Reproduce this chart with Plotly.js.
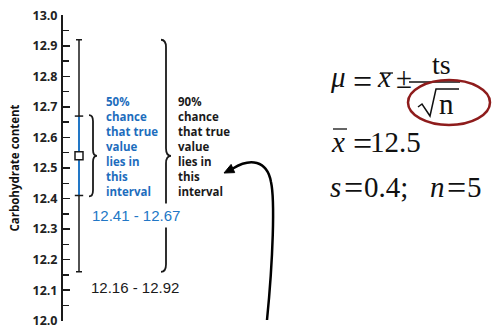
<!DOCTYPE html>
<html><head><meta charset="utf-8">
<script src="https://cdn.plot.ly/plotly-3.0.1.min.js"></script>
<style>html,body{margin:0;padding:0;background:#fff;}</style>
</head><body><div id="chart" style="width:494px;height:328px;"></div>
<script>
// ---- data ----
const meanValue = [12.54];
const ci50 = [12.41, 12.67];
const ci90 = [12.16, 12.92];
const yTickValues = [12.0, 12.1, 12.2, 12.3, 12.4, 12.5, 12.6, 12.7, 12.8, 12.9, 13.0];
const yTickLabels = ["12.0", "12.1", "12.2", "12.3", "12.4", "12.5", "12.6", "12.7", "12.8", "12.9", "13.0"];
const label50 = ["50%", "chance", "that true", "value", "lies in", "this", "interval"];
const label90 = ["90%", "chance", "that true", "value", "lies in", "this", "interval"];
const sampleMean = [12.5];
const sampleSD = [0.4];
const sampleN = [5];
const yAxisTitle = "Carbohydrate content";

// ---- layout helpers ----
const W = 494, H = 328, ML = 63, MT = 15, MB = 7;
const plotH = H - MT - MB;
const yMin = 11.999, yMax = 13.001;
const Y = py => yMax - (py - MT) / plotH * (yMax - yMin);   // page pixel -> y value
const BLUE = '#2277c6';
const BLUE_TXT = '#1d6dbd';
const INK = '#1a1a1a';
const barX = 79;

function brace(xv, yTop, yBot, w, c) {
  const ym = (yTop + yBot) / 2;
  return `M ${xv - w},${yTop} Q ${xv},${yTop} ${xv},${yTop - c} L ${xv},${ym + c} ` +
         `Q ${xv},${ym} ${xv + w},${ym} Q ${xv},${ym} ${xv},${ym - c} ` +
         `L ${xv},${yBot + c} Q ${xv},${yBot} ${xv - w},${yBot}`;
}

const traces = [
  { x: [barX], y: meanValue, type: 'scatter', mode: 'markers', hoverinfo: 'skip', showlegend: false,
    marker: { size: 1, color: 'rgba(0,0,0,0)' },
    error_y: { type: 'data', symmetric: false, array: [ci90[1] - meanValue[0]], arrayminus: [meanValue[0] - ci90[0]],
               color: INK, thickness: 1.5, width: 3 } },
  { x: [barX], y: meanValue, type: 'scatter', mode: 'markers', hoverinfo: 'skip', showlegend: false,
    marker: { size: 1, color: 'rgba(0,0,0,0)' },
    error_y: { type: 'data', symmetric: false, array: [ci50[1] - meanValue[0]], arrayminus: [meanValue[0] - ci50[0]],
               color: BLUE, thickness: 2, width: 0 } },
  { x: [barX, barX], y: ci50, type: 'scatter', mode: 'markers', hoverinfo: 'skip', showlegend: false,
    marker: { symbol: 'line-ew', size: 6, line: { color: INK, width: 1.5 } } },
  { x: [barX], y: meanValue, type: 'scatter', mode: 'markers', hoverinfo: 'skip', showlegend: false,
    marker: { symbol: 'square', size: 8, color: '#fff', line: { color: INK, width: 1.5 } } }
];

const boldFont = (size, color) => ({ family: 'Open Sans, sans-serif', size: size, weight: 'bold', color: color });
const serif = { family: 'Liberation Serif', size: 29, color: '#111' };
const serifSmall = { family: 'Liberation Serif', size: 28, color: '#111' };
const eqSign = { family: 'Liberation Serif', size: 34, color: '#111' };

const annotations = [];
function tok(text, x, py, xanchor, font) {
  annotations.push({ x: x, y: Y(py), xref: 'x', yref: 'y', text: text, showarrow: false,
    xanchor: xanchor, yanchor: 'middle', font: font, borderpad: 0, borderwidth: 0 });
}
annotations.push({ x: 105, y: Y(146), xref: 'x', yref: 'y', text: label50.join('<br>'), showarrow: false,
  xanchor: 'left', yanchor: 'middle', align: 'left', borderpad: 0, font: boldFont(11.5, BLUE_TXT) });
annotations.push({ x: 177, y: Y(146), xref: 'x', yref: 'y', text: label90.join('<br>'), showarrow: false,
  xanchor: 'left', yanchor: 'middle', align: 'left', borderpad: 0, font: boldFont(11.5, INK) });
annotations.push({ x: 88, y: Y(215), xref: 'x', yref: 'y', text: ci50[0].toFixed(2) + ' - ' + ci50[1].toFixed(2),
  showarrow: false, xanchor: 'left', yanchor: 'middle', bgcolor: '#fff', borderpad: 3,
  font: { family: 'Liberation Sans, Arial, sans-serif', size: 15, color: BLUE } });
annotations.push({ x: 90, y: Y(287), xref: 'x', yref: 'y', text: ci90[0].toFixed(2) + ' - ' + ci90[1].toFixed(2),
  showarrow: false, xanchor: 'left', yanchor: 'middle', borderpad: 0,
  font: { family: 'Liberation Sans, Arial, sans-serif', size: 15, color: INK } });

// formula: mu = xbar ± ts/sqrt(n)   (baseline 87)
tok('<i>μ</i>', 330, 77, 'left', serif);
tok('=', 362.5, 81, 'center', eqSign);
tok('<i>x</i>', 377, 77, 'left', serif);
tok('±', 403.5, 78, 'center', serif);
tok('ts', 441, 64, 'center', serifSmall);
tok('n', 439, 104, 'left', serif);
// xbar = 12.5   (baseline 152)
tok('<i>x</i>', 331, 142, 'left', serif);
tok('=', 362.5, 143, 'center', eqSign);
tok(String(sampleMean[0]), 370, 142, 'left', serif);
// s = 0.4; n = 5   (baseline 197)
tok('<i>s</i>', 330, 187, 'left', serif);
tok('=', 353.5, 187.5, 'center', eqSign);
tok(sampleSD[0] + ';', 364, 187, 'left', serif);
tok('<i>n</i>', 430, 187, 'left', serif);
tok('=', 456, 187.5, 'center', eqSign);
tok(String(sampleN[0]), 467, 187, 'left', serif);

// arrow geometry
const tip = [224, 173], base = [232.9, 168.5];
const eqLine = { color: '#111', width: 1.3 };
const shapes = [
  { type: 'path', xref: 'x', yref: 'y', path: brace(93, ci50[1] + 0.003, ci50[0] - 0.003, 4, 0.02), line: { color: INK, width: 1.8 } },
  { type: 'path', xref: 'x', yref: 'y', path: brace(166, ci90[1], ci90[0], 5, 0.025), line: { color: INK, width: 1.8 } },
  // fraction bar
  { type: 'line', xref: 'x', yref: 'y', x0: 409, x1: 460, y0: Y(82), y1: Y(82), line: eqLine },
  // radical sign
  { type: 'path', xref: 'x', yref: 'y', line: { color: '#111', width: 1.5 },
    path: `M 418,${Y(107)} L 422,${Y(104)} L 430,${Y(116)} L 436,${Y(89)} L 459,${Y(89)}` },
  // overbars on x
  { type: 'line', xref: 'x', yref: 'y', x0: 380, x1: 393, y0: Y(73), y1: Y(73), line: eqLine },
  { type: 'line', xref: 'x', yref: 'y', x0: 333, x1: 347, y0: Y(129), y1: Y(129), line: eqLine },
  // red ellipse
  { type: 'circle', xref: 'x', yref: 'y', x0: 408, x1: 490, y0: Y(80), y1: Y(125), line: { color: '#8e1c1c', width: 2.5 } },
  // curved arrow
  { type: 'path', xref: 'x', yref: 'y', line: { color: '#000', width: 2.5 },
    path: `M 267,${Y(320)} C 273,${Y(260)} 275,${Y(200)} 271,${Y(182)} C 267,${Y(160)} 250,${Y(158)} ${base[0]},${Y(base[1])}` },
  { type: 'path', xref: 'x', yref: 'y', line: { color: '#000', width: 1 }, fillcolor: '#000',
    path: `M ${tip[0]},${Y(tip[1])} L 234.7,${Y(172.6)} L 231.1,${Y(164.4)} Z` }
];

const layout = {
  width: W, height: H,
  margin: { l: ML, r: 0, t: MT, b: MB, pad: 0 },
  paper_bgcolor: '#fff', plot_bgcolor: '#fff',
  showlegend: false,
  xaxis: { range: [ML, W], visible: false, fixedrange: true },
  yaxis: {
    range: [yMin, yMax], tickvals: yTickValues, ticktext: yTickLabels,
    ticks: 'inside', ticklen: 7, tickwidth: 1.5, tickcolor: INK,
    minor: { dtick: 0.05, tick0: 12, ticks: 'inside', ticklen: 6, tickwidth: 1.5, tickcolor: INK },
    showline: true, linecolor: INK, linewidth: 2, showgrid: false, zeroline: false,
    tickfont: boldFont(12.5, '#222'), ticklabelstandoff: 1, ticklabeloverflow: 'allow',
    automargin: false, fixedrange: true,
    title: { text: yAxisTitle, font: boldFont(11.5, '#111'), standoff: 10 }
  },
  annotations: annotations,
  shapes: shapes
};

Plotly.newPlot('chart', traces, layout, { staticPlot: true, displayModeBar: false });
</script></body></html>
